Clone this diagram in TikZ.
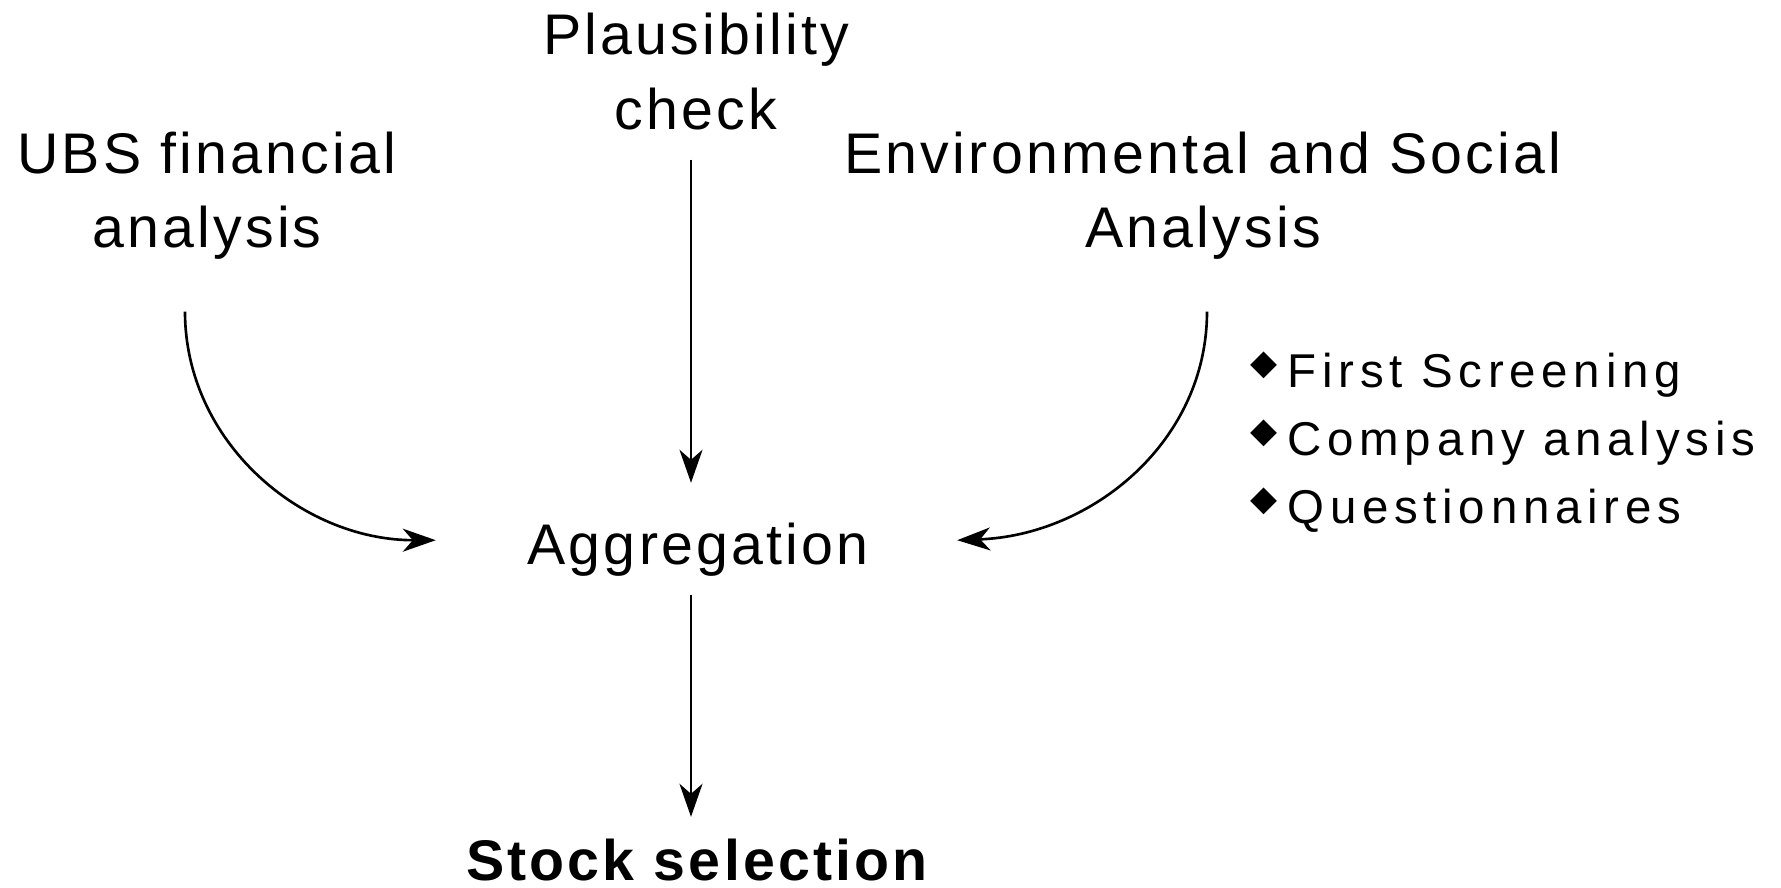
\documentclass[tikz,border=0pt]{standalone}
\usepackage{fontspec}
\setmainfont[LetterSpace=5.6]{Liberation Sans}
\newfontfamily\bulfont[LetterSpace=12]{Liberation Sans}
\newfontfamily\symfont{DejaVu Sans}
\usetikzlibrary{arrows.meta}
\begin{document}
\begin{tikzpicture}[x=0.1mm,y=-0.1mm,
  lbl/.style={inner sep=0pt, anchor=base, font=\fontsize{16.3}{21.3}\selectfont},
  bul/.style={inner sep=0pt, anchor=base west, font=\bulfont\fontsize{13.5}{17}\selectfont},
  arr/.style={-{Stealth[length=3.3mm,width=2.3mm,inset=1mm]}, line width=0.75pt}]
\useasboundingbox (0,0) rectangle (1781,887);
\newcommand\bulmark{\hbox to 3.7mm{\raisebox{3.6pt}{\symfont\fontsize{10}{10}\selectfont ◆}\hss}}
\node[lbl] (plaus) at (696,54.5) {\begin{tabular}[t]{@{}c@{}}Plausibility\\check\end{tabular}};
\node[lbl] (ubs) at (207,173) {\begin{tabular}[t]{@{}c@{}}UBS financial\\analysis\end{tabular}};
\node[lbl] (env) at (1203,173) {\begin{tabular}[t]{@{}c@{}}Environmental and Social\\Analysis\end{tabular}};
\node[lbl] (agg) at (698,564) {Aggregation};
\node[lbl, font=\fontsize{16.3}{21.3}\selectfont\bfseries] (stock) at (697,880) {Stock selection};
\node[bul] (b1) at (1250,387) {\bulmark First Screening};
\node[bul] (b2) at (1250,455) {\bulmark Company analysis};
\node[bul] (b3) at (1250,523) {\bulmark Questionnaires};
\draw[arr] ([shift={(-5,7)}]plaus.south) -- ([shift={(-7,-39)}]agg.north);
\draw[arr] ([shift={(-7,18)}]agg.south) -- ([shift={(-6,-21)}]stock.north);
\draw[arr] ([shift={(-22,40.5)}]ubs.south) .. controls +(0,130) and +(-135,0) .. ([shift={(-91,-9)}]agg.west);
\draw[arr] ([shift={(4,40.5)}]env.south) .. controls +(0,130) and +(135,-5) .. ([shift={(88,-9)}]agg.east);
\end{tikzpicture}
\end{document}
